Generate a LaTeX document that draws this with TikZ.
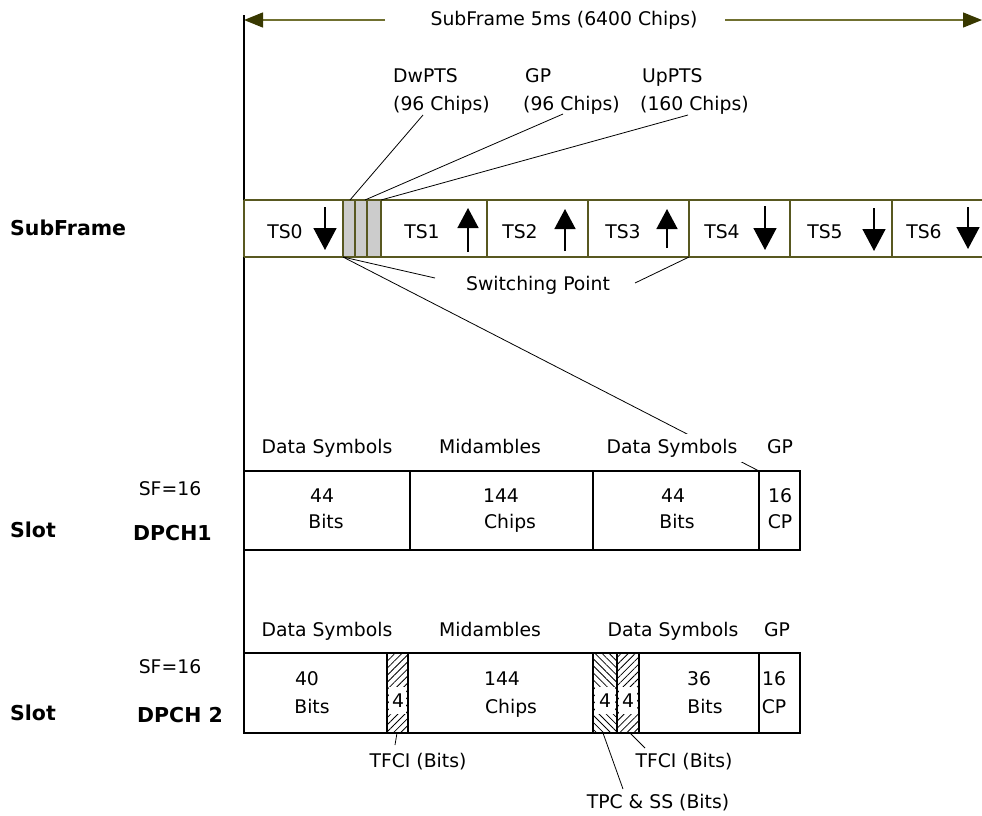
\documentclass[tikz,border=0pt]{standalone}
\usepackage{fontspec}
\setmainfont{DejaVu Sans}
\usetikzlibrary{arrows.meta,patterns.meta}
\definecolor{oliveline}{RGB}{112,112,48}
\definecolor{olivedark}{RGB}{56,56,0}
\definecolor{frameline}{RGB}{88,88,32}
\definecolor{slotgray}{RGB}{204,204,204}
\begin{document}
\begin{tikzpicture}[x=1pt,y=-1pt,
  lbl/.style={font=\fontsize{18.8}{22}\selectfont, inner sep=0pt, anchor=base},
  lblw/.style={font=\fontsize{18.8}{22}\selectfont, inner sep=0pt, anchor=base west},
  bld/.style={font=\bfseries\fontsize{20.5}{24}\selectfont, inner sep=0pt, anchor=base west},
  dimline/.style={oliveline, line width=1.4pt, -{Triangle[length=19pt,width=15pt,color=olivedark]}},
  frame/.style={frameline, line width=1.4pt},
  cell/.style={black, line width=1.4pt},
  leader/.style={black, line width=0.8pt},
  downarrow/.style={black, line width=1.5pt, -{Triangle[length=22pt,width=23pt]}},
  uparrow/.style={black, line width=1.5pt, -{Triangle[length=20pt,width=21pt]}},
  hatchne/.style={pattern={Lines[angle=45,distance=5pt,line width=0.8pt]}},
  hatchnw/.style={pattern={Lines[angle=-45,distance=5pt,line width=0.8pt]}}]
\useasboundingbox (0,0) rectangle (982,815);

% ---------- top dimension ----------
\node[lbl] (title) at (564,25) {SubFrame 5ms (6400 Chips)};
\coordinate (al) at (244,20);
\coordinate (ar) at (982,20);
\coordinate (l1) at (385,20);
\coordinate (r1) at (725,20);
\draw[dimline] (l1) -- (al);
\draw[dimline] (r1) -- (ar);

% ---------- left vertical line ----------
\coordinate (vtop) at (244,15);
\coordinate (vbot) at (244,733);
\draw[cell] (vtop) -- (vbot);

% ---------- subframe row ----------
\filldraw[frame, fill=slotgray] (343,200) rectangle (355,257);
\filldraw[frame, fill=slotgray] (355,200) rectangle (367,257);
\filldraw[frame, fill=slotgray] (367,200) rectangle (381,257);
\draw[frame] (244,200) -- (982,200);
\draw[frame] (244,257) -- (982,257);
\foreach \xx in {244,343,381,487,588,689,790,892}
  \draw[frame] (\xx,200) -- (\xx,257);

\node[lbl] (ts0) at (285,238) {TS0};
\node[lbl] (ts1) at (422,238) {TS1};
\node[lbl] (ts2) at (520,238) {TS2};
\node[lbl] (ts3) at (623,238) {TS3};
\node[lbl] (ts4) at (722,238) {TS4};
\node[lbl] (ts5) at (825,238) {TS5};
\node[lbl] (ts6) at (924,238) {TS6};

\draw[downarrow] (325,207) -- (325,250);
\draw[uparrow] (468,252) -- (468,208);
\draw[uparrow] (565,251) -- (565,209);
\draw[uparrow] (667,248) -- (667,209);
\draw[downarrow] (765,206) -- (765,250);
\draw[downarrow] (874,208) -- (874,251);
\draw[downarrow] (968,207) -- (968,249);

\node[bld] (subframe) at (10,235) {SubFrame};

% ---------- DwPTS / GP / UpPTS labels ----------
\node[lblw] (dw1) at (393,82) {DwPTS};
\node[lblw] (dw2) at (393,110) {(96 Chips)};
\node[lblw] (gp1) at (525,82) {GP};
\node[lblw] (gp2) at (523,110) {(96 Chips)};
\node[lblw] (up1) at (642,82) {UpPTS};
\node[lblw] (up2) at (640,110) {(160 Chips)};
\coordinate (dwa) at (423,115); \coordinate (dwb) at (350,200);
\coordinate (gpa) at (563,114); \coordinate (gpb) at (365,200);
\coordinate (upa) at (688,115); \coordinate (upb) at (381,200);
\draw[leader] (dwa) -- (dwb);
\draw[leader] (gpa) -- (gpb);
\draw[leader] (upa) -- (upb);

% ---------- switching point ----------
\coordinate (sp0) at (343,257);
\coordinate (sp1) at (435,278);
\coordinate (sp2) at (635,283);
\coordinate (sp3) at (689,257);
\node[lbl] (swp) at (538,290) {Switching Point};
\draw[leader] (sp0) -- (sp1);
\draw[leader] (sp2) -- (sp3);
\coordinate (gpcorner) at (759,471);
\draw[leader] (sp0) -- (gpcorner);

% ---------- slot 1 (DPCH1) ----------
\draw[cell] (244,471) rectangle (800,550);
\foreach \xx in {410,593,759}
  \draw[cell] (\xx,471) -- (\xx,550);
\node[lbl] (h1a) at (327,453) {Data Symbols};
\node[lbl] (h1b) at (490,453) {Midambles};
\node[lbl, fill=white, inner sep=5pt] (h1c) at (672,453) {Data Symbols};
\node[lbl] (h1d) at (780,453) {GP};
\node[lbl] (c1a) at (322,502) {44};
\node[lbl] (c1b) at (326,528) {Bits};
\node[lbl] (c1c) at (501,502) {144};
\node[lbl] (c1d) at (510,528) {Chips};
\node[lbl] (c1e) at (673,502) {44};
\node[lbl] (c1f) at (677,528) {Bits};
\node[lbl] (c1g) at (780,502) {16};
\node[lbl] (c1h) at (780,528) {CP};
\node[lbl] (sf1) at (170,495) {SF=16};
\node[bld] (slot1) at (10,537) {Slot};
\node[bld] (dpch1) at (133,540) {DPCH1};

% ---------- slot 2 (DPCH 2) ----------
\fill[hatchne] (387,653) rectangle (408,733);
\fill[hatchnw] (593,653) rectangle (617,733);
\fill[hatchne] (617,653) rectangle (639,733);
\fill[white] (389,687) rectangle (406,714);
\fill[white] (595,687) rectangle (615,714);
\fill[white] (619,687) rectangle (637,714);
\draw[cell] (244,653) rectangle (800,733);
\foreach \xx in {387,408,593,617,639,759}
  \draw[cell] (\xx,653) -- (\xx,733);
\node[lbl] (h2a) at (327,636) {Data Symbols};
\node[lbl] (h2b) at (490,636) {Midambles};
\node[lbl] (h2c) at (673,636) {Data Symbols};
\node[lbl] (h2d) at (777,636) {GP};
\node[lbl] (c2a) at (307,685) {40};
\node[lbl] (c2b) at (312,713) {Bits};
\node[lbl] (c2t1) at (398,707) {4};
\node[lbl] (c2c) at (502,685) {144};
\node[lbl] (c2d) at (511,713) {Chips};
\node[lbl] (c2t2) at (605,707) {4};
\node[lbl] (c2t3) at (628,707) {4};
\node[lbl] (c2e) at (699,685) {36};
\node[lbl] (c2f) at (705,713) {Bits};
\node[lbl] (c2g) at (774,685) {16};
\node[lbl] (c2h) at (774,713) {CP};
\node[lbl] (sf2) at (170,673) {SF=16};
\node[bld] (slot2) at (10,720) {Slot};
\node[bld] (dpch2) at (137,722) {DPCH 2};

% ---------- bottom annotations ----------
\node[lbl] (tfci1) at (418,767) {TFCI (Bits)};
\node[lbl] (tfci2) at (684,767) {TFCI (Bits)};
\node[lbl] (tpc) at (658,808) {TPC \& SS (Bits)};
\coordinate (t1a) at (397,733); \coordinate (t1b) at (395,745);
\coordinate (t2a) at (630,733); \coordinate (t2b) at (645,748);
\coordinate (t3a) at (603,733); \coordinate (t3b) at (623,789);
\draw[leader] (t1a) -- (t1b);
\draw[leader] (t2a) -- (t2b);
\draw[leader] (t3a) -- (t3b);
\end{tikzpicture}
\end{document}
